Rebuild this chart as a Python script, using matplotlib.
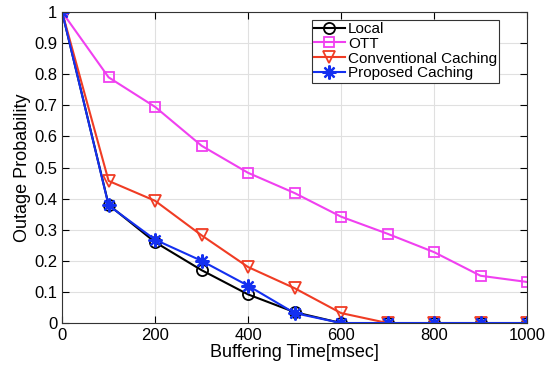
import numpy as np
import matplotlib.pyplot as plt

# Data
t = [0, 100, 200, 300, 400, 500, 600, 700, 800, 900, 1000]
local = [1.0, 0.38, 0.26, 0.17, 0.092, 0.035, 0.0, 0.0, 0.0, 0.0, 0.0]
ott = [1.0, 0.79, 0.695, 0.57, 0.483, 0.418, 0.342, 0.287, 0.228, 0.152, 0.132]
conventional = [1.0, 0.457, 0.393, 0.282, 0.18, 0.112, 0.032, 0.0, 0.0, 0.0, 0.0]
proposed = [1.0, 0.378, 0.268, 0.2, 0.12, 0.032, 0.0, 0.0, 0.0, 0.0, 0.0]

plt.rcParams['font.family'] = ['Liberation Sans', 'DejaVu Sans']

fig, ax = plt.subplots(figsize=(5.45, 3.65), dpi=100)
fig.subplots_adjust(left=0.114, right=0.967, top=0.967, bottom=0.115)

ax.plot(t, local, color='black', marker='o', ms=8, mfc='none', mew=1.3, lw=1.5, label='Local')
ax.plot(t, ott, color='#f040f0', marker='s', ms=7, mfc='none', mew=1.3, lw=1.5, label='OTT')
ax.plot(t, conventional, color='#f03c24', marker='v', ms=9, mfc='none', mew=1.3, lw=1.5, label='Conventional Caching')
ax.plot(t, proposed, color='#1430f0', marker=(8, 2, 0), ms=10, mew=1.6, lw=1.5, label='Proposed Caching')

ax.set_xlim(0, 1000)
ax.set_ylim(0, 1)
ax.set_xticks(np.arange(0, 1001, 200))
ax.set_yticks(np.arange(0, 1.01, 0.1))
ax.set_yticklabels(['0', '0.1', '0.2', '0.3', '0.4', '0.5', '0.6', '0.7', '0.8', '0.9', '1'])
ax.tick_params(direction='in', top=True, right=True, labelsize=12, length=5)
ax.grid(True, color='#e0e0e0', lw=0.8)
for s in ax.spines.values():
    s.set_color('#333333')

ax.set_xlabel('Buffering Time[msec]', fontsize=13, labelpad=1)
ax.set_ylabel('Outage Probability', fontsize=13, labelpad=2)

leg = ax.legend(loc='upper right', bbox_to_anchor=(0.95, 0.99), fontsize=11, fancybox=False,
                edgecolor='#333333', framealpha=1, handlelength=2.0, handletextpad=0.2,
                borderpad=0.15, labelspacing=0.05, borderaxespad=0.3)
leg.get_frame().set_linewidth(0.8)

plt.savefig('out.png', dpi=100)
